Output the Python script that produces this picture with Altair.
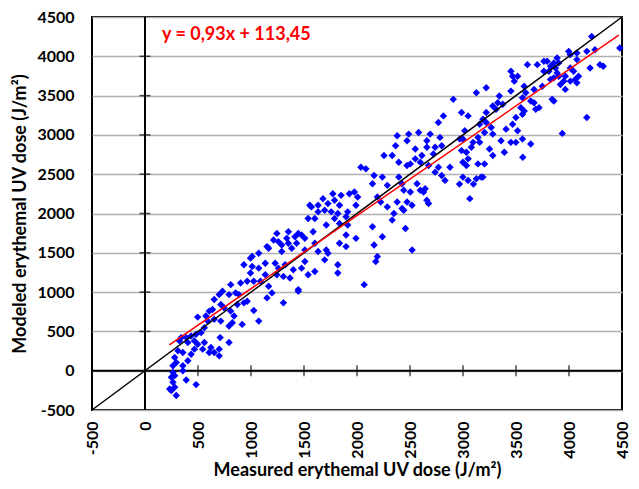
import altair as alt
import pandas as pd

# ---- data ----
measured = [
    497, 575, 606, 637, 715, 746, 808, 840, 871, 933, 1026, 1073, 917, 793, 824, 715, 653, 591, 560, 529,
    482, 435, 389, 342, 326, 404, 466, 497, 560, 544, 622, 606, 700, 653, 700, 709, 793, 466, 435, 404,
    357, 311, 280, 295, 357, 264, 264, 280, 249, 264, 233, 280, 295, 249, 389, 482, 357,
    1151, 1166, 1135, 1073, 1011, 995, 933, 1011, 1073, 995, 964, 902, 1026, 1089, 1135, 1166, 1198, 1151,
    1306, 1446, 809, 731, 700, 793, 855, 653, 886, 964,
    2161, 2239, 2286, 2146, 2192, 2223, 2286, 2348, 2332, 2146, 2239, 2161, 2192, 2177, 2068, 1990, 1897,
    1912, 1835, 1788, 1819, 1835, 1788, 1850, 1772, 1928, 1975, 2006, 1990, 1912, 1897, 1757, 1726, 1679,
    1695, 1633, 1602, 1539, 1570, 1555, 1633, 1710, 1586, 1602, 1633, 1710, 1726, 1695, 1835, 1897, 1819,
    1819, 1508, 1508, 1477, 1446, 1415, 1353, 1337, 1353, 1290, 1259, 1213, 1244, 1430, 1384, 1290, 1322,
    1259, 1228, 1244, 1306, 1368, 1399, 1477, 1508, 1539, 1602, 1446,
    2815, 2768, 2783, 2690, 2581, 2488, 2379, 2364, 2472, 2550, 2659, 2659, 2737, 2799, 2721, 2612, 2550,
    2503, 2597, 2675, 2737, 2799, 2830, 2768, 2877, 2472, 2394, 2332, 2255, 2394, 2425, 2441, 2503, 2628,
    2597, 2643, 2566, 2675, 2659, 2519, 2441, 2379, 2472, 2425, 2037, 2084,
    3219, 3126, 2908, 3343, 3328, 3375, 3281, 3312, 3219, 3188, 3157, 3219, 3266, 3203, 3281, 3359, 3390,
    3250, 3281, 3203, 3141, 3172, 3188, 3126, 3048, 2999, 3032, 2999, 3048, 2986, 3032, 2999, 2970, 3017,
    2986, 3048, 3095, 3157, 3141, 3079,
    3608, 3701, 3763, 3763, 3468, 3515, 3452, 3484, 3452, 3577, 3592, 3670, 3748, 3561, 3639, 3546, 3577,
    3686, 3717, 3670, 3561, 3499, 3468, 3515, 3561, 3639, 3499, 3452, 3406,
    4214, 4245, 4168, 4479, 4074, 4074, 3997, 4012, 4292, 4323, 4199, 4090, 4059, 4074, 4043, 3965, 4012,
    3950, 3965, 3903, 3919, 3857, 3826, 3888, 3888, 3903, 3857, 3826, 3872, 3810, 3794, 3857, 3841, 4168,
    4012,
    2520, 2457, 3064, 3937, 3564, 3098, 2967,
]
modeled = [
    682, 695, 758, 779, 842, 800, 758, 695, 842, 863, 766, 631, 589, 568, 610, 631, 653, 631, 547, 484,
    463, 442, 421, 421, 379, 358, 379, 337, 358, 274, 295, 231, 274, 231, 189, 421, 358, 274, 210, 126,
    231, 253, 168, 105, 63, 63, -21, -63, -84, -147, -232, -211, -316, -253, -118, -177, 0,
    1579, 1558, 1368, 1495, 1453, 1432, 1347, 1326, 1305, 1242, 1137, 1116, 1137, 1137, 1221, 1074, 990, 926,
    863, 1010, 1095, 1010, 968, 968, 990, 905, 968, 884,
    2484, 2463, 2358, 2379, 2210, 2147, 2084, 2000, 1916, 1831, 1705, 1600, 1452, 1389, 1095, 1684, 1726,
    1853, 1874, 1937, 2000, 2105, 2168, 2231, 2252, 2252, 2273, 2210, 2105, 2021, 1958, 2021, 2126, 2189,
    2042, 2021, 1937, 1937, 2084, 2105, 2105, 1853, 1768, 1621, 1516, 1537, 1495, 1410, 1621, 1579, 1347,
    1242, 1537, 1684, 1726, 1747, 1705, 1768, 1684, 1621, 1600, 1642, 1663, 1747, 1621, 1558, 1516, 1347,
    1305, 1368, 1221, 1200, 1179, 1284, 1305, 1389, 1221, 1263, 1032,
    3242, 3158, 2968, 3010, 3031, 3010, 2989, 2863, 2926, 2821, 2926, 2842, 2842, 2863, 2758, 2737, 2695,
    2631, 2653, 2610, 2526, 2484, 2421, 2589, 2589, 2610, 2653, 2737, 2737, 2463, 2379, 2295, 2274, 2274,
    2295, 2316, 2379, 2126, 2168, 2105, 2042, 2147, 2147, 2063, 2589, 2568,
    3599, 3536, 3452, 3494, 3410, 3389, 3368, 3326, 3284, 3199, 3136, 3157, 3094, 3031, 3010, 2926, 2779,
    2821, 2737, 2631, 2631, 2463, 2463, 2442, 2421, 2463, 2610, 2652, 2695, 2800, 2779, 2947, 2947, 3052,
    3284, 3242, 2905, 2905, 2968, 2842,
    3894, 3894, 3936, 3810, 3747, 3747, 3810, 3684, 3557, 3620, 3536, 3578, 3620, 3473, 3431, 3347, 3305,
    3326, 3347, 3410, 3263, 3221, 3136, 3052, 2947, 2884, 2905, 2905, 3073,
    4252, 4084, 4063, 4105, 4042, 3958, 4063, 4021, 3894, 3873, 3852, 3747, 3705, 3663, 3810, 3747, 3684,
    3684, 3579, 3747, 3642, 3726, 3705, 3789, 3979, 3916, 3916, 3873, 3852, 3810, 3937, 3431, 3452, 3221,
    3852,
    1536, 1810, 2189, 3019, 2716, 2374, 2374,
]
axis_values = [-500, 0, 500, 1000, 1500, 2000, 2500, 3000, 3500, 4000, 4500]
inner_ticks = [500, 1000, 1500, 2000, 2500, 3000, 3500, 4000]
slope = 0.93
intercept = 113.45
fit_range = [230, 4470]
diag_range = [-500, 4500]
equation = "y = 0,93x + 113,45"
equation_pos = [160, 4265]
x_title = "Measured erythemal UV dose (J/m²)"
y_title = "Modeled erythemal UV dose (J/m²)"

FONT = "Lato"
dom = [axis_values[0], axis_values[-1]]
xs = alt.Scale(domain=dom, nice=False, zero=False)
ys = alt.Scale(domain=dom, nice=False, zero=False)

LABEL_EXPR = "'' + datum.value"
X_AXIS = alt.Axis(values=axis_values, labelExpr=LABEL_EXPR, labelAngle=270, grid=False, ticks=False,
                  domain=False, labelPadding=11, title=x_title, titlePadding=3)
Y_AXIS = alt.Axis(values=axis_values, labelExpr=LABEL_EXPR, grid=True, gridColor="#b0b0b0", gridWidth=1.5,
                  ticks=False, domain=False, labelPadding=18, title=y_title, titlePadding=7)


def X():
    return alt.X("x:Q", scale=xs, axis=X_AXIS)


def Y():
    return alt.Y("y:Q", scale=ys, axis=Y_AXIS)


pts = pd.DataFrame({"x": measured, "y": modeled})

vline = alt.Chart(pd.DataFrame({"x": [0], "y": [dom[0]], "y2": [dom[1]]})).mark_rule(
    color="black", strokeWidth=2).encode(x=X(), y=Y(), y2="y2:Q")
hline = alt.Chart(pd.DataFrame({"x": [dom[0]], "x2": [dom[1]], "y": [0]})).mark_rule(
    color="black", strokeWidth=2).encode(x=X(), x2="x2:Q", y=Y())

yticks = alt.Chart(pd.DataFrame({"x": [0] * len(inner_ticks), "y": inner_ticks})).mark_tick(
    orient="horizontal", color="black", thickness=1.5, size=11).encode(x=X(), y=Y())
xticks = alt.Chart(pd.DataFrame({"x": inner_ticks, "y": [0] * len(inner_ticks)})).mark_tick(
    orient="vertical", color="black", thickness=1.5, size=11).encode(x=X(), y=Y())

points = alt.Chart(pts).mark_point(shape="diamond", filled=True, color="#0000ff",
                                   opacity=1, size=55).encode(x=X(), y=Y())

diag = alt.Chart(pd.DataFrame({"x": diag_range, "y": diag_range})).mark_line(
    color="black", strokeWidth=1.5).encode(x=X(), y=Y())

fit = alt.Chart(pd.DataFrame({"x": fit_range,
                              "y": [slope * v + intercept for v in fit_range]})).mark_line(
    color="#ff0000", strokeWidth=1.5).encode(x=X(), y=Y())

eq = alt.Chart(pd.DataFrame({"x": [equation_pos[0]], "y": [equation_pos[1]], "t": [equation]})).mark_text(
    align="left", baseline="middle", font=FONT, fontSize=18, fontWeight="bold", color="#ff0000").encode(
    x=X(), y=Y(), text="t:N")

chart = alt.layer(vline, hline, yticks, xticks, points, diag, fit, eq).properties(
    width=530, height=393,
    autosize=alt.AutoSizeParams(type="none"),
    padding={"left": 84, "top": 9, "right": 7, "bottom": 71},
).configure_view(stroke="black", strokeWidth=2).configure_axis(
    labelFont=FONT, labelFontSize=16, labelFontWeight="bold", labelColor="black",
    titleFont=FONT, titleFontSize=18, titleFontWeight="bold", titleColor="black",
)

chart.save("out.html", embed_options={"renderer": "svg", "actions": False})
